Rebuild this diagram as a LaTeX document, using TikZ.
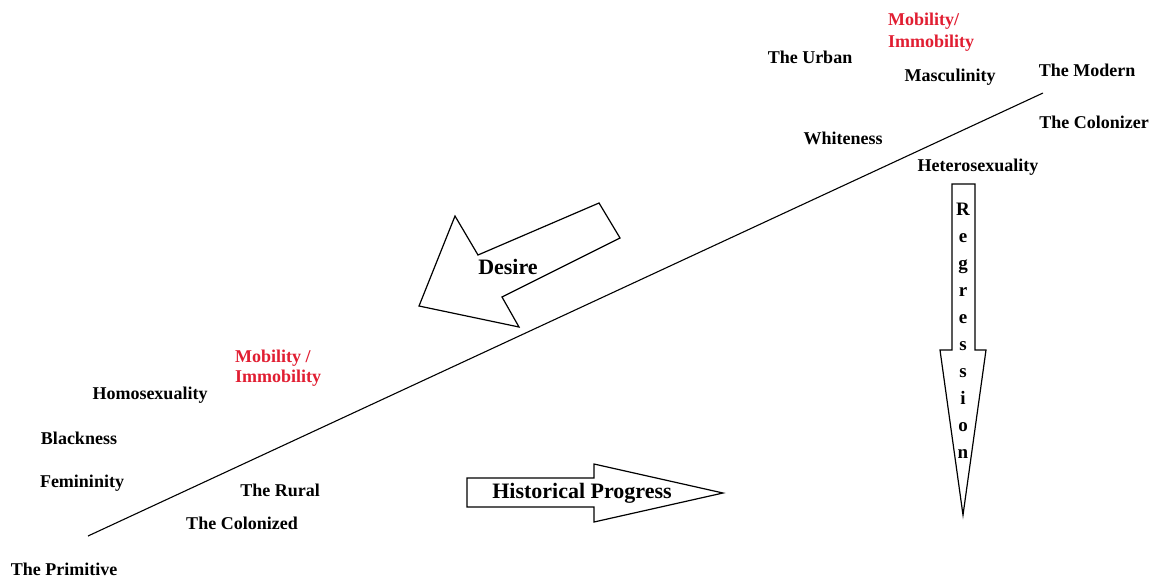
\documentclass[tikz,border=0pt]{standalone}
\usepackage{fontspec}
\setmainfont{Liberation Serif}
\definecolor{mobred}{RGB}{225,30,50}
\begin{document}
\begin{tikzpicture}[x=1pt,y=-1pt,
  lbl/.style={font=\fontsize{18}{20}\selectfont\bfseries, inner sep=0pt},
  redlbl/.style={lbl, text=mobred, align=left, anchor=west},
  biglbl/.style={font=\fontsize{22}{24}\selectfont\bfseries, inner sep=0pt},
  vlbl/.style={font=\fontsize{19}{27}\selectfont\bfseries, inner sep=0pt, align=center},
  blockarrow/.style={draw=black, line width=1.2pt, fill=white, line join=miter},
  axis/.style={draw=black, line width=1.1pt}]
\useasboundingbox (0,0) rectangle (1151,579);
\fill[white] (0,0) rectangle (1151,579);

% main diagonal line
\coordinate (lowend) at (88,536);
\coordinate (highend) at (1043,93);
\draw[axis] (lowend) -- (highend);

% Desire arrow
\draw[blockarrow] (419,306) -- (455,216) -- (478,255) -- (599,203) -- (620,238)
  -- (502,297) -- (519,327) -- cycle;
\node[biglbl] (desire) at (508,267) {Desire};

% Historical Progress arrow
\draw[blockarrow] (467,478) -- (594,478) -- (594,464) -- (723,493) -- (594,522)
  -- (594,507) -- (467,507) -- cycle;
\node[biglbl] (progress) at (582,493) {Historical Progress};

% Regression arrow
\draw[blockarrow] (952,184) -- (975,184) -- (975,350) -- (986,350) -- (963,515)
  -- (940,350) -- (952,350) -- cycle;
\node[vlbl] (regression) at (963,331) {R\\e\\g\\r\\e\\s\\s\\i\\o\\n};

% lower-left labels
\node[lbl] (primitive) at (64,569) {The Primitive};
\node[lbl] (femininity) at (82,483) {Femininity};
\node[lbl] (blackness) at (79,438) {Blackness};
\node[lbl] (homosexuality) at (150,395) {Homosexuality};
\node[redlbl] (mobilitylow) at (235,368) {Mobility /\\Immobility};
\node[lbl] (rural) at (280,490) {The Rural};
\node[lbl] (colonized) at (242,523) {The Colonized};

% upper-right labels
\node[lbl] (whiteness) at (843,138) {Whiteness};
\node[lbl] (heterosexuality) at (978,167) {Heterosexuality};
\node[lbl] (colonizer) at (1094,122) {The Colonizer};
\node[lbl] (modern) at (1087,70) {The Modern};
\node[lbl] (masculinity) at (950,77) {Masculinity};
\node[lbl] (urban) at (810,57) {The Urban};
\node[redlbl, font=\fontsize{18}{22}\selectfont\bfseries] (mobilityhigh) at (888,32) {Mobility/\\Immobility};
\end{tikzpicture}
\end{document}
